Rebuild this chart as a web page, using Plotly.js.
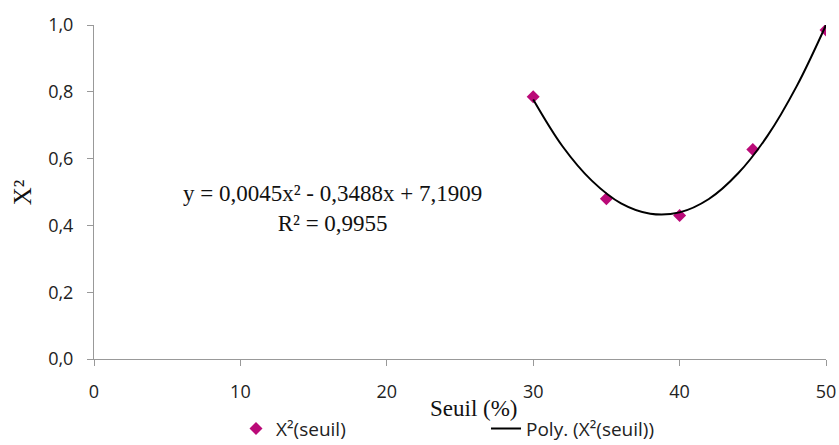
<!DOCTYPE html>
<html>
<head>
<meta charset="utf-8">
<script src="https://cdn.plot.ly/plotly-3.0.1.min.js"></script>
<style>html,body{margin:0;padding:0;background:#fff;}#chart{width:839px;height:445px;}</style>
</head>
<body>
<div id="chart"></div>
<script>
// Observed points
const seuil = [30, 35, 40, 45, 50];
const chi2 = [0.785, 0.48, 0.43, 0.627, 0.985];
// Trend curve (polynomial order 2)
const trendX = [30, 32, 34, 36, 38, 40, 42, 44, 46, 48, 50];
const trendY = [0.777, 0.637, 0.534, 0.466, 0.435, 0.439, 0.479, 0.556, 0.668, 0.817, 1.0];
const xTicks = [0, 10, 20, 30, 40, 50];
const yTicks = [0, 0.2, 0.4, 0.6, 0.8, 1.0];
const yTickText = ["0,0", "0,2", "0,4", "0,6", "0,8", "1,0"];
const equation = "y = 0,0045x² - 0,3488x + 7,1909<br>R² = 0,9955";

const tickFont = {family: "Open Sans, Liberation Sans, sans-serif", size: 18, color: "#222"};
const legendFont = {family: "Open Sans, Liberation Sans, sans-serif", size: 19, color: "#222"};
const serif = "Liberation Serif, Times New Roman, serif";

const traces = [
  {
    x: seuil, y: chi2, type: "scatter", mode: "markers", name: "X²(seuil)",
    marker: {symbol: "diamond", size: 10, color: "#BA0A78"}
  },
  {
    x: trendX, y: trendY, type: "scatter", mode: "lines", name: "Poly. (X²(seuil))",
    line: {color: "#000", width: 2, shape: "spline"}
  }
];

const layout = {
  width: 839, height: 445,
  margin: {l: 94, r: 13, t: 25, b: 86},
  paper_bgcolor: "#fff", plot_bgcolor: "#fff",
  showlegend: true,
  legend: {
    orientation: "h", xref: "paper", x: 0.194, yref: "container", y: 0.037,
    xanchor: "left", yanchor: "middle",
    font: legendFont, entrywidth: 205, entrywidthmode: "pixels", traceorder: "normal"
  },
  xaxis: {
    range: [0, 50], tickvals: xTicks, ticktext: xTicks.map(String),
    showline: true, linecolor: "#999", linewidth: 1, showgrid: false, zeroline: false,
    ticks: "outside", ticklen: 6, tickcolor: "#999", tickfont: tickFont,
    ticklabelstandoff: 10, automargin: false
  },
  yaxis: {
    range: [0, 1], tickvals: yTicks, ticktext: yTickText,
    showline: true, linecolor: "#999", linewidth: 1, showgrid: false, zeroline: false,
    ticks: "outside", ticklen: 6, tickcolor: "#999", tickfont: tickFont,
    ticklabelstandoff: 10, automargin: false
  },
  annotations: [
    {text: "Seuil (%)", xref: "paper", yref: "paper", x: 0.519, y: -0.147, showarrow: false,
     xanchor: "center", yanchor: "middle", font: {family: serif, size: 23, color: "#111"}},
    {text: "X²", xref: "paper", yref: "paper", x: -0.098, y: 0.5, showarrow: false,
     xanchor: "center", yanchor: "middle",
     textangle: -90, font: {family: serif, size: 25, color: "#111"}},
    {text: equation, xref: "paper", yref: "paper", x: 0.326, y: 0.45, showarrow: false,
     xanchor: "center", yanchor: "middle", align: "center",
     font: {family: serif, size: 23, color: "#111"}}
  ]
};

Plotly.newPlot("chart", traces, layout, {displayModeBar: false, staticPlot: true});
</script>
</body>
</html>
